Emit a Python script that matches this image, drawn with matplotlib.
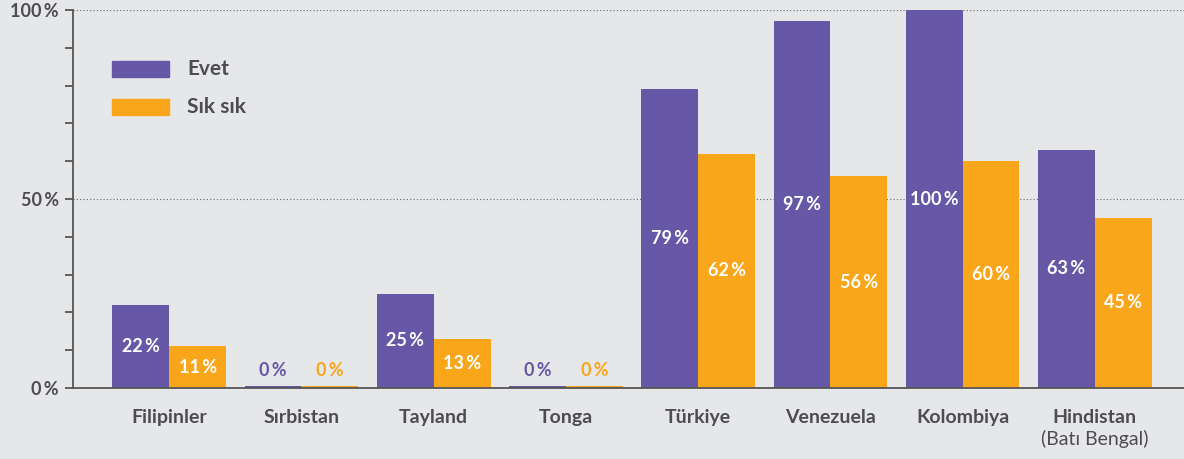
import matplotlib
matplotlib.use("Agg")
import matplotlib.pyplot as plt
import numpy as np
from matplotlib.ticker import MultipleLocator, FixedLocator
import matplotlib.transforms as mtrans

categories = ["Filipinler", "Sırbistan", "Tayland", "Tonga", "Türkiye", "Venezuela", "Kolombiya", "Hindistan"]
subtitle = "(Batı Bengal)"
evet = [22, 0, 25, 0, 79, 97, 100, 63]
siksik = [11, 0, 13, 0, 62, 56, 60, 45]
series_names = ["Evet", "Sık sık"]
ytick_vals = [0, 50, 100]
ytick_labels = ["0\u2009%", "50\u2009%", "100\u2009%"]

PURPLE = "#6757a7"
ORANGE = "#f9a61a"
BG = "#e6e7e9"
TXT = "#4d4d4f"
FONT = ["Lato", "DejaVu Sans"]

W, H = 1184, 459
fig = plt.figure(figsize=(W/100, H/100), dpi=100, facecolor=BG)
ax = fig.add_axes([73/W, 1-388/H, 1-73/W, (388-10)/H])
ax.set_facecolor(BG)

x = np.arange(len(categories))
bw = 0.43
ev = np.array(evet, float)
sk = np.array(siksik, float)
ax.bar(x - bw/2, np.maximum(ev, 0.5), bw, color=PURPLE, zorder=3)
ax.bar(x + bw/2, np.maximum(sk, 0.5), bw, color=ORANGE, zorder=3)

def label(xpos, v, col):
    if v > 0:
        ax.text(xpos, v/2, f"{int(v)}\u2009%", ha="center", va="center", color="white",
                fontsize=13, fontweight="bold", family=FONT, zorder=4)
    else:
        ax.text(xpos, 4.5, "0\u2009%", ha="center", va="center", color=col,
                fontsize=13, fontweight="bold", family=FONT, zorder=4)

for xi, v in zip(x, ev):
    label(xi - bw/2, v, PURPLE)
for xi, v in zip(x, sk):
    label(xi + bw/2, v, ORANGE)

ax.set_xlim(-0.727, len(categories) - 1 + 0.674)
ax.set_ylim(0, 100)

for yv in [50, 100]:
    ax.axhline(yv, color="#666666", lw=0.8, ls=(0, (1, 2)), zorder=2)

for s in ["top", "right"]:
    ax.spines[s].set_visible(False)
for s in ["left", "bottom"]:
    ax.spines[s].set_color("#555555")
    ax.spines[s].set_linewidth(1.3)
    ax.spines[s].set_zorder(5)

ax.yaxis.set_major_locator(FixedLocator(ytick_vals))
ax.yaxis.set_minor_locator(MultipleLocator(10))
ax.set_yticklabels(ytick_labels)
ax.tick_params(axis="y", which="both", direction="out", length=6, width=1.3, color="#555555",
               labelsize=13, labelcolor=TXT, pad=4)
for lab in ax.get_yticklabels():
    lab.set_fontweight("bold")
    lab.set_family(FONT)

ax.set_xticks(x)
ax.set_xticklabels(categories)
ax.tick_params(axis="x", length=0, pad=15, labelsize=14, labelcolor=TXT)
for lab in ax.get_xticklabels():
    lab.set_fontweight("bold")
    lab.set_family(FONT)

trans = mtrans.blended_transform_factory(ax.transData, fig.transFigure)
ax.text(x[-1], 1 - 439/H, subtitle, transform=trans, ha="center", va="center",
        fontsize=14, color=TXT, family=FONT)

# legend
ftrans = fig.transFigure
for i, (name, col) in enumerate(zip(series_names, [PURPLE, ORANGE])):
    yc = 69 + i*38
    fig.patches.append(plt.Rectangle((112/W, 1-(yc+8)/H), 57/W, 16/H, color=col, transform=ftrans, figure=fig))
    fig.text(187/W, 1-yc/H, name, ha="left", va="center", fontsize=15, fontweight="bold",
             color=TXT, family=FONT)

fig.savefig("out.png", dpi=100, facecolor=BG)
